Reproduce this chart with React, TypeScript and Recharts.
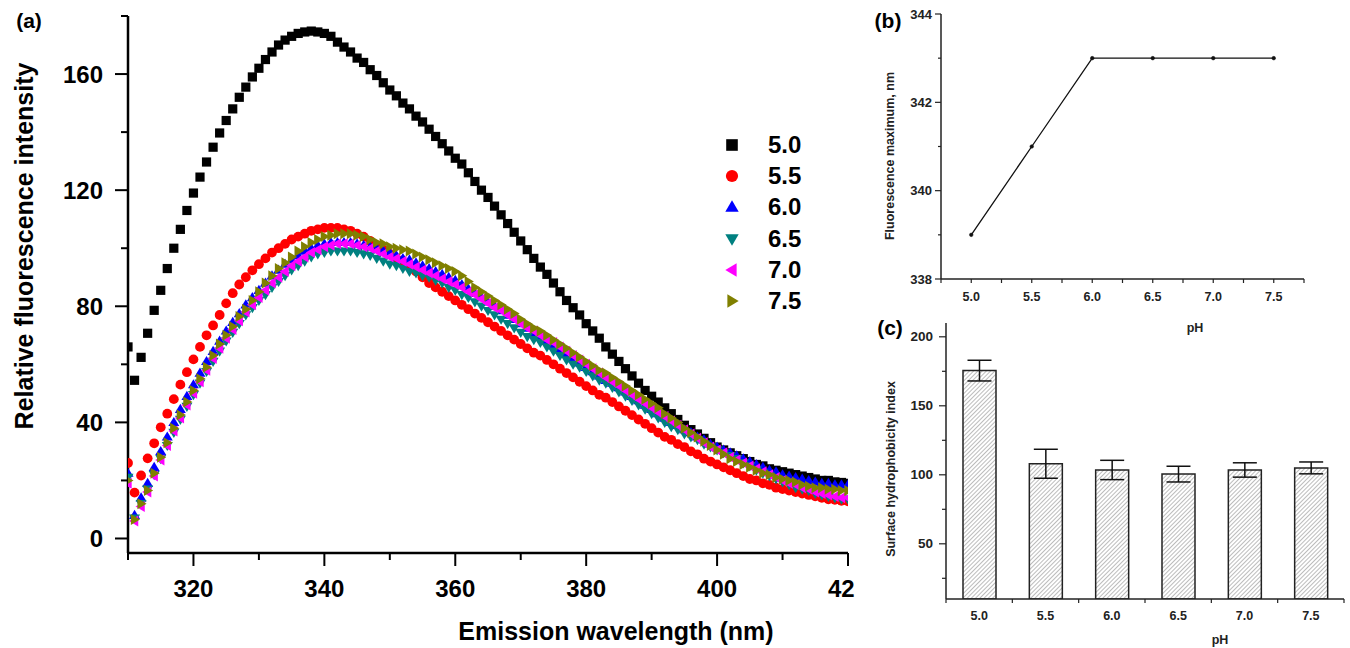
import React from "react";
import {
  ScatterChart,
  Scatter,
  LineChart,
  Line,
  BarChart,
  Bar,
  ErrorBar,
  XAxis,
  YAxis,
  Legend,
  Label,
} from "recharts";

const FONT = "'Liberation Sans', Arial, Helvetica, sans-serif";

// ---- panel (a): emission spectra, one reading per nm ----
const wavelengths = [
  310, 311, 312, 313, 314, 315, 316, 317, 318, 319,
  320, 321, 322, 323, 324, 325, 326, 327, 328, 329,
  330, 331, 332, 333, 334, 335, 336, 337, 338, 339,
  340, 341, 342, 343, 344, 345, 346, 347, 348, 349,
  350, 351, 352, 353, 354, 355, 356, 357, 358, 359,
  360, 361, 362, 363, 364, 365, 366, 367, 368, 369,
  370, 371, 372, 373, 374, 375, 376, 377, 378, 379,
  380, 381, 382, 383, 384, 385, 386, 387, 388, 389,
  390, 391, 392, 393, 394, 395, 396, 397, 398, 399,
  400, 401, 402, 403, 404, 405, 406, 407, 408, 409,
  410, 411, 412, 413, 414, 415, 416, 417, 418, 419, 420,
];

const ph50 = [
  66, 54.5, 62.4, 70.7, 78.6, 85.5, 93, 100, 106.5, 113,
  119, 124.5, 129.7, 134.8, 139.7, 144, 148, 152, 155.5, 159,
  162, 165, 167.6, 170, 171.7, 173, 174, 174.5, 174.8, 174.5,
  174, 173, 171, 169.3, 167.6, 165.5, 164, 161.5, 159.5, 157,
  154.5, 152.5, 150, 148, 145.5, 143.5, 141, 138.5, 136, 133.5,
  131, 129, 126, 123, 120, 117.5, 114.5, 111.5, 108.5, 105.5,
  102.5, 99.5, 96.5, 93.5, 91, 88, 85, 82, 79.5, 77,
  74, 71.5, 69, 66, 63.5, 61, 58.5, 56, 53.5, 51,
  49, 47, 45, 43, 41, 39, 37.5, 36, 34.5, 33,
  31.5, 30.5, 29.5, 28.5, 27.5, 26.5, 25.5, 25, 24, 23.5,
  23, 22.5, 22, 21.5, 21, 20.5, 20, 20, 19.5, 19.3, 19,
];

const ph55 = [
  26, 15.8, 21.7, 27.6, 32.8, 38.3, 43, 48, 53, 57.3,
  61.7, 66, 70, 73.4, 77, 81, 84.5, 87.5, 90, 92.4,
  94.5, 96.5, 98.5, 100, 101.5, 103, 104, 105, 106, 106.5,
  107, 107, 107, 106.5, 106, 105, 104, 102.5, 101, 99.5,
  98, 96.5, 95, 93.5, 92, 90, 88, 86.5, 85, 83.5,
  82, 80.5, 79, 77.5, 76, 74.5, 73, 71.5, 70, 68.5,
  67, 65.5, 64, 63, 61.5, 60, 58.5, 57, 55.5, 54,
  52.5, 51, 49.5, 48.5, 47, 45.5, 44, 42.5, 41, 39.5,
  38, 36.5, 35, 34, 32.5, 31.5, 30, 29, 27.5, 26.5,
  25.5, 24.5, 23.5, 22.5, 21.5, 20.5, 20, 19, 18.5, 17.5,
  17, 16.5, 16, 15.5, 15, 14.5, 14, 13.5, 13.3, 13, 12.8,
];

const ph60 = [
  22.5, 8, 14, 19, 24.5, 30, 35, 40, 44.5, 49,
  53, 57, 61, 64.5, 68, 71.5, 74.5, 77.5, 80.5, 83,
  85.5, 88, 90.5, 92.5, 94.5, 96, 97.5, 99, 100, 101,
  101.5, 102, 102, 102, 102, 101.5, 101, 100.5, 100, 99,
  98.5, 97.5, 96.5, 96, 95, 94, 93, 92, 91, 90,
  89, 87.5, 86, 84.5, 83, 81.5, 80, 78.5, 77, 75.5,
  74, 72.5, 71, 69.5, 68, 66.5, 65, 63.5, 62, 60.5,
  59, 57.5, 56, 54.5, 53.5, 52, 50.5, 49, 47.5, 46,
  44.5, 43, 41.5, 40, 39, 37.5, 36.5, 35, 34, 32.5,
  31.5, 30.5, 29.5, 28.5, 27.5, 26.5, 25.5, 24.5, 23.5, 23,
  22, 21.5, 21, 20.5, 20, 19.5, 19, 19, 18.5, 18.5, 18.5,
];

const ph65 = [
  21, 7, 12, 17, 22, 27.5, 32, 36.5, 41, 45.5,
  49.5, 53.5, 57.5, 61, 64.5, 68, 71, 74, 77, 79.5,
  82, 84, 86.5, 88.5, 90.5, 92.5, 94, 95.5, 97, 98,
  98.5, 99, 99, 99, 99, 98.5, 98, 97.5, 96.5, 95.5,
  94.5, 94, 93, 92, 91.5, 90.5, 90, 89, 88, 86.5,
  85.5, 84, 83, 81.5, 80, 78.5, 77, 75.5, 74, 72.5,
  71, 69.5, 68.5, 67.5, 66, 64.5, 63, 61.5, 60, 59,
  57.5, 56, 54.5, 53.5, 52, 50.5, 49, 47.5, 46, 44.5,
  43, 41.5, 40, 38.5, 37.5, 36, 35, 34, 32.5, 31.5,
  30.5, 29.5, 28.5, 27.5, 26, 25, 23.5, 22.5, 21.5, 20.5,
  19.5, 18.5, 17.5, 17, 16.5, 15.5, 15, 14.5, 14, 13.5, 13.5,
];

const ph70 = [
  19, 6, 11, 16, 21.5, 27, 32, 37, 41.5, 46,
  50, 54, 58, 62, 65.5, 69, 72, 75, 78, 80.5,
  83, 85.5, 88, 90, 92, 94, 95.5, 97, 98.5, 99.5,
  100.5, 101, 101.5, 101.5, 101.5, 101, 100.5, 100, 99, 98,
  97, 96.5, 95.5, 94.5, 93.5, 92.5, 91.5, 90.5, 89.5, 88.5,
  87.5, 86.5, 85, 84, 82.5, 81, 79.5, 78.5, 77, 75.5,
  74, 72.5, 71.5, 70, 68.5, 67.5, 66, 64.5, 63, 61.5,
  60, 58.5, 57, 55.5, 54, 52.5, 51, 49.5, 48, 46.5,
  45, 43.5, 42, 40.5, 39, 37.5, 36, 34.5, 33, 31.5,
  30.5, 29.5, 28, 27, 26, 25, 24, 23, 22, 21,
  20, 19, 18.5, 17.5, 17, 16, 15.5, 15, 14.5, 14, 14,
];

const ph75 = [
  20, 6.5, 12, 16.5, 22.5, 28, 33, 38, 42.5, 47,
  51, 55, 59, 63, 67, 70, 73, 76.5, 79, 82,
  85, 88, 90.5, 93, 95, 97, 99, 100.5, 102, 103,
  104, 104.5, 105, 105, 105, 104.5, 104, 103, 102, 101.5,
  100.5, 100, 99.5, 99, 98, 97, 96, 95, 94, 93,
  92, 90.5, 88.5, 86.5, 85, 83.5, 82, 80.5, 79, 77.5,
  75.5, 74, 72.5, 71.5, 70, 68.5, 67, 65.5, 64, 62.5,
  61, 59.5, 58, 57, 55.5, 54, 52.5, 51, 49.5, 48,
  46.5, 45, 43, 41.5, 40, 38, 36.5, 35, 33.5, 32,
  30.5, 29, 27.5, 26.5, 25.5, 24.5, 23.5, 22.5, 22, 21,
  20.5, 20, 19.5, 18.5, 18, 17.5, 17.5, 17, 17, 16.5, 16.5,
];

const spectra = [ph50, ph55, ph60, ph65, ph70, ph75];
const seriesNames = ["5.0", "5.5", "6.0", "6.5", "7.0", "7.5"];
const seriesColors = ["#000000", "#ff0000", "#0000ff", "#008080", "#ff00ff", "#808000"];
const seriesMarkers = ["square", "circle", "up", "down", "left", "right"];

const aXTicks = [310, 320, 330, 340, 350, 360, 370, 380, 390, 400, 410, 420];
const aXLabels = [320, 340, 360, 380, 400, 420];
// the last label is cut to "42" at the figure's edge in the source
const aXLabelText = ["320", "340", "360", "380", "400", "42"];
const aYTicks = [0, 20, 40, 60, 80, 100, 120, 140, 160, 180];
const aYLabels = [0, 40, 80, 120, 160];

// ---- panel (b): emission maximum vs pH ----
const phValues = [5.0, 5.5, 6.0, 6.5, 7.0, 7.5];
const fluorMax = [339, 341, 343, 343, 343, 343];
const bXTicks = [4.75, 5.0, 5.25, 5.5, 5.75, 6.0, 6.25, 6.5, 6.75, 7.0, 7.25, 7.5, 7.75];
const bYTicks = [338, 339, 340, 341, 342, 343, 344];
const bYLabels = [338, 340, 342, 344];

// ---- panel (c): surface hydrophobicity ----
const hydroIndex = [175.5, 108, 103.5, 100.5, 103.5, 105];
const hydroErr = [7.5, 10.5, 7, 5.7, 5.2, 4.3];
const cYTicks = [25, 50, 75, 100, 125, 150, 175, 200];
const cYLabels = [50, 100, 150, 200];

const bData = phValues.map((p, i) => ({ ph: p, max: fluorMax[i] }));
const cData = phValues.map((p, i) => ({ ph: p, index: hydroIndex[i], err: hydroErr[i] }));

function Marker({ cx, cy, kind, color, s }: any) {
  if (kind === "square")
    return <rect x={cx - s} y={cy - s} width={2 * s} height={2 * s} fill={color} />;
  if (kind === "circle") return <circle cx={cx} cy={cy} r={s + 0.3} fill={color} />;
  let pts = "";
  const a = s + 0.9;
  const b = s * 0.8;
  if (kind === "up") pts = `${cx},${cy - a} ${cx + a},${cy + b} ${cx - a},${cy + b}`;
  if (kind === "down") pts = `${cx},${cy + a} ${cx + a},${cy - b} ${cx - a},${cy - b}`;
  if (kind === "left") pts = `${cx - a},${cy} ${cx + b},${cy - a} ${cx + b},${cy + a}`;
  if (kind === "right") pts = `${cx + a},${cy} ${cx - b},${cy - a} ${cx - b},${cy + a}`;
  return <polygon points={pts} fill={color} />;
}

function title(text: string, x: number, y: number, size: number, vertical = false, color = "#000") {
  return (
    <text
      x={x}
      y={y}
      textAnchor="middle"
      fontFamily={FONT}
      fontWeight="bold"
      fontSize={size}
      fill={color}
      transform={vertical ? `rotate(-90 ${x} ${y})` : undefined}
    >
      {text}
    </text>
  );
}

// plot-area edges of each panel (svg coordinates)
const A = { left: 128, top: 16, right: 848, bottom: 553 };
const B = { left: 81, top: 14, right: 444, bottom: 279 };
const C = { left: 86, top: 13, right: 484, bottom: 289 };

function AXTick({ x, payload }: any) {
  const idx = aXLabels.indexOf(payload.value);
  const major = idx >= 0;
  const last = idx === aXLabels.length - 1;
  return (
    <g>
      <line x1={x} x2={x} y1={A.bottom} y2={A.bottom + (major ? 13 : 7)} stroke="#000" strokeWidth={2} />
      {major && (
        <text
          x={last ? x - 20 : x}
          y={588}
          textAnchor={last ? "start" : "middle"}
          dominantBaseline="central"
          fontFamily={FONT}
          fontWeight="bold"
          fontSize={24}
          fill="#000"
        >
          {aXLabelText[idx]}
        </text>
      )}
    </g>
  );
}

function AYTick({ y, payload }: any) {
  const major = aYLabels.includes(payload.value);
  return (
    <g>
      <line x1={A.left} x2={A.left - (major ? 13 : 7)} y1={y} y2={y} stroke="#000" strokeWidth={2} />
      {major && (
        <text x={103} y={y} textAnchor="end" dominantBaseline="central" fontFamily={FONT} fontWeight="bold" fontSize={24} fill="#000">
          {payload.value}
        </text>
      )}
    </g>
  );
}

function BXTick({ x, payload }: any) {
  const major = phValues.includes(payload.value);
  return (
    <g>
      <line x1={x} x2={x} y1={B.bottom} y2={B.bottom + 4} stroke="#222" strokeWidth={1.2} />
      {major && (
        <text x={x} y={297} textAnchor="middle" dominantBaseline="central" fontFamily={FONT} fontWeight="bold" fontSize={12.5} fill="#222">
          {payload.value.toFixed(1)}
        </text>
      )}
    </g>
  );
}

function BYTick({ y, payload }: any) {
  const major = bYLabels.includes(payload.value);
  return (
    <g>
      <line x1={B.left} x2={B.left - (major ? 6 : 3)} y1={y} y2={y} stroke="#222" strokeWidth={1.2} />
      {major && (
        <text x={72} y={y} textAnchor="end" dominantBaseline="central" fontFamily={FONT} fontWeight="bold" fontSize={13} fill="#222">
          {payload.value}
        </text>
      )}
    </g>
  );
}

function CXTick({ x, payload }: any) {
  const label = phValues.includes(payload.value);
  if (label)
    return (
      <text x={x} y={306} textAnchor="middle" dominantBaseline="central" fontFamily={FONT} fontWeight="bold" fontSize={12.5} fill="#222">
        {payload.value.toFixed(1)}
      </text>
    );
  return <line x1={x} x2={x} y1={C.bottom} y2={C.bottom + 4} stroke="#222" strokeWidth={1.2} />;
}

function CYTick({ y, payload }: any) {
  const major = cYLabels.includes(payload.value);
  return (
    <g>
      <line x1={C.left} x2={C.left - (major ? 7 : 4)} y1={y} y2={y} stroke="#222" strokeWidth={1.2} />
      {major && (
        <text x={73} y={y} textAnchor="end" dominantBaseline="central" fontFamily={FONT} fontWeight="bold" fontSize={13.5} fill="#222">
          {payload.value}
        </text>
      )}
    </g>
  );
}

function LegendA() {
  return (
    <div style={{ fontFamily: FONT }}>
      {seriesNames.map((n, i) => (
        <div key={n} style={{ display: "flex", alignItems: "center", height: 31.2 }}>
          <svg width={24} height={24}>
            <Marker cx={12} cy={12} kind={seriesMarkers[i]} color={seriesColors[i]} s={5.8} />
          </svg>
          <span style={{ marginLeft: 24, fontSize: 24, fontWeight: "bold", color: "#000", lineHeight: "24px" }}>{n}</span>
        </div>
      ))}
    </div>
  );
}

function SpectraPanel() {
  return (
    <ScatterChart width={856} height={648} margin={{ top: 16, right: 8, bottom: 35, left: 28 }}>
      <XAxis
        type="number"
        dataKey="x"
        domain={[310, 420]}
        ticks={aXTicks}
        interval={0}
        tick={AXTick}
        tickLine={false}
        axisLine={{ stroke: "#000", strokeWidth: 2.5 }}
        height={60}
        allowDataOverflow
      >
        <Label content={() => title("Emission wavelength (nm)", 616, 640, 25)} />
      </XAxis>
      <YAxis
        type="number"
        dataKey="y"
        domain={[-5, 180]}
        ticks={aYTicks}
        interval={0}
        tick={AYTick}
        tickLine={false}
        axisLine={{ stroke: "#000", strokeWidth: 2.5 }}
        width={100}
        allowDataOverflow
      >
        <Label
          content={() => (
            <g>
              {title("Relative fluorescence intensity", 33, 246, 25, true)}
              {title("(a)", 29, 28, 21)}
            </g>
          )}
        />
      </YAxis>
      {spectra.map((vals, i) => (
        <Scatter
          key={seriesNames[i]}
          name={seriesNames[i]}
          data={wavelengths.map((w, j) => ({ x: w, y: vals[j] }))}
          fill={seriesColors[i]}
          isAnimationActive={false}
          shape={(p: any) => <Marker cx={p.cx} cy={p.cy} kind={seriesMarkers[i]} color={seriesColors[i]} s={4.6} />}
        />
      ))}
      <Legend
        layout="vertical"
        align="center"
        verticalAlign="middle"
        content={LegendA}
        wrapperStyle={{ left: 720, top: 129.5, width: 120, height: 190 }}
      />
    </ScatterChart>
  );
}

function MaximumPanel() {
  return (
    <LineChart width={490} height={340} data={bData} margin={{ top: 14, right: 46, bottom: 31, left: 31 }}>
      <XAxis
        type="number"
        dataKey="ph"
        domain={[4.75, 7.75]}
        ticks={bXTicks}
        interval={0}
        tick={BXTick}
        tickLine={false}
        axisLine={{ stroke: "#222", strokeWidth: 1.5 }}
        height={30}
      >
        <Label content={() => title("pH", 335, 332, 12.5, false, "#222")} />
      </XAxis>
      <YAxis
        type="number"
        domain={[338, 344]}
        ticks={bYTicks}
        interval={0}
        tick={BYTick}
        tickLine={false}
        axisLine={{ stroke: "#222", strokeWidth: 1.5 }}
        width={50}
      >
        <Label
          content={() => (
            <g>
              {title("Fluorescence maximum, nm", 34, 156, 12.5, true, "#222")}
              {title("(b)", 28, 28, 21)}
            </g>
          )}
        />
      </YAxis>
      <Line
        type="linear"
        dataKey="max"
        stroke="#111"
        strokeWidth={1.3}
        dot={{ r: 1.8, fill: "#111", stroke: "#111", strokeWidth: 0.5 }}
        isAnimationActive={false}
      />
    </LineChart>
  );
}

function HydrophobicityPanel() {
  return (
    <BarChart width={490} height={338} data={cData} margin={{ top: 13, right: 6, bottom: 19, left: 36 }}>
      <defs>
        <pattern id="hatch" patternUnits="userSpaceOnUse" width={3} height={3} patternTransform="rotate(45)">
          <rect width={3} height={3} fill="#ffffff" />
          <line x1={0} y1={0} x2={0} y2={3} stroke="#7a7a7a" strokeWidth={1} />
        </pattern>
      </defs>
      <XAxis
        type="number"
        dataKey="ph"
        domain={[4.75, 7.75]}
        ticks={bXTicks}
        interval={0}
        tick={CXTick}
        tickLine={false}
        axisLine={{ stroke: "#222", strokeWidth: 1.5 }}
        height={30}
      >
        <Label content={() => title("pH", 360, 334, 12.5, false, "#222")} />
      </XAxis>
      <YAxis
        type="number"
        domain={[10, 210]}
        ticks={cYTicks}
        interval={0}
        tick={CYTick}
        tickLine={false}
        axisLine={{ stroke: "#222", strokeWidth: 1.5 }}
        width={50}
        allowDataOverflow
      >
        <Label
          content={() => (
            <g>
              {title("Surface hydrophobicity index", 35, 159, 12.5, true, "#222")}
              {title("(c)", 30, 25, 21)}
            </g>
          )}
        />
      </YAxis>
      <Bar dataKey="index" barSize={33} fill="url(#hatch)" stroke="#222" strokeWidth={1.5} isAnimationActive={false}>
        <ErrorBar dataKey="err" width={12} stroke="#111" strokeWidth={1.5} direction="y" />
      </Bar>
    </BarChart>
  );
}

export default function App() {
  return (
    <div style={{ position: "absolute", left: 0, top: 0, width: 1350, height: 648, background: "#fff", overflow: "hidden" }}>
      <div style={{ position: "absolute", left: 0, top: 0 }}>
        <SpectraPanel />
      </div>
      <div style={{ position: "absolute", left: 860, top: 0 }}>
        <MaximumPanel />
      </div>
      <div style={{ position: "absolute", left: 860, top: 310 }}>
        <HydrophobicityPanel />
      </div>
    </div>
  );
}
